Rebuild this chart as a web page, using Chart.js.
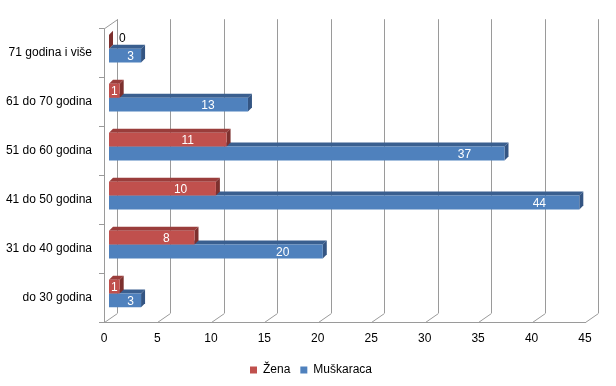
<!DOCTYPE html>
<html>
<head>
<meta charset="utf-8">
<script src="https://cdn.jsdelivr.net/npm/chart.js@4.4.1/dist/chart.umd.min.js"></script>
<style>
  html, body { margin: 0; padding: 0; background: #fff; }
  #wrap { width: 616px; height: 386px; }
</style>
</head>
<body>
<div id="wrap"><canvas id="myChart"></canvas></div>
<script>
  /* data */
  var categories = ["71 godina i više", "61 do 70 godina", "51 do 60 godina", "41 do 50 godina", "31 do 40 godina", "do 30 godina"];
  var zena = [0, 1, 11, 10, 8, 1];
  var muskaraca = [3, 13, 37, 44, 20, 3];
  var xTicks = [0, 5, 10, 15, 20, 25, 30, 35, 40, 45];

  var FONT = "'Liberation Sans', Arial, sans-serif";
  var FX = -5, FY = 4;   // front plane offset
  var BX = 8, BY = -5;   // back wall offset
  var D = 4;             // bar depth

  /* walls, floor, grid of the 3d box */
  var walls = {
    id: 'walls',
    afterLayout: function(chart) {
      // legend sits a bit right of the canvas centre
      chart.legend.left += 32;
    },
    beforeDatasetsDraw: function(chart) {
      var c = chart.ctx, a = chart.chartArea;
      var x = chart.scales.x;
      var x0 = Math.round(x.getPixelForValue(0)), x1 = Math.round(x.getPixelForValue(45));
      c.save();
      c.strokeStyle = '#9a9a9a';
      c.lineWidth = 1;
      c.beginPath();
      xTicks.forEach(function(v) {
        var px = Math.round(x.getPixelForValue(v));
        c.moveTo(px + BX + 0.5, a.top + BY);
        c.lineTo(px + BX + 0.5, a.bottom + BY);
        c.moveTo(px + FX + 0.5, a.bottom + FY + 0.5);
        c.lineTo(px + BX + 0.5, a.bottom + BY + 0.5);
      });
      // front bottom edge
      c.moveTo(x0 + FX, a.bottom + FY + 0.5);
      c.lineTo(x1 + FX + 1, a.bottom + FY + 0.5);
      // left wall
      c.moveTo(x0 + FX + 0.5, a.top + FY);
      c.lineTo(x0 + FX + 0.5, a.bottom + FY);
      c.moveTo(x0 + FX + 0.5, a.top + FY + 0.5);
      c.lineTo(x0 + BX + 0.5, a.top + BY + 0.5);
      // category ticks on the left
      var n = categories.length, h = (a.bottom - a.top) / n;
      for (var i = 0; i <= n; i++) {
        var ty = Math.round(a.top + i * h + FY) + 0.5;
        c.moveTo(x0 + FX - 5, ty);
        c.lineTo(x0 + FX, ty);
      }
      c.stroke();

      // top and side faces of the bars, lower series first
      var tops = ['#9a3d3b', '#3a5f8f'];
      var sides = ['#7d302e', '#345583'];
      [1, 0].forEach(function(di) {
        var meta = chart.getDatasetMeta(di);
        meta.data.forEach(function(bar) {
          var t = bar.y - bar.height / 2, b = bar.y + bar.height / 2;
          var l = bar.base, r = bar.x;
          c.fillStyle = tops[di];
          c.beginPath();
          c.moveTo(l, t); c.lineTo(l + D, t - D); c.lineTo(r + D, t - D); c.lineTo(r, t);
          c.closePath(); c.fill();
          c.fillStyle = sides[di];
          c.beginPath();
          c.moveTo(r, t); c.lineTo(r + D, t - D); c.lineTo(r + D, b - D); c.lineTo(r, b);
          c.closePath(); c.fill();
        });
      });
      c.restore();
    }
  };

  /* value labels */
  var values = {
    id: 'values',
    afterDatasetsDraw: function(chart) {
      var c = chart.ctx;
      c.save();
      c.font = '12px ' + FONT;
      c.textBaseline = 'middle';
      chart.data.datasets.forEach(function(ds, di) {
        var meta = chart.getDatasetMeta(di);
        meta.data.forEach(function(bar, i) {
          var v = ds.data[i];
          var w = bar.x - bar.base;
          if (v === 0) {
            c.fillStyle = '#000';
            c.textAlign = 'left';
            c.fillText(String(v), bar.x + 10, bar.y - 3);
            return;
          }
          var off = w < 20 ? w / 2 : Math.min(w * 0.33, 40);
          c.fillStyle = '#fff';
          c.textAlign = 'center';
          c.fillText(String(v), bar.x - off, bar.y + 1);
        });
      });
      c.restore();
    }
  };

  var ctx = document.getElementById("myChart").getContext('2d');
  var myChart = new Chart(ctx, {
    type: 'bar',
    plugins: [walls, values],
    data: {
      labels: categories,
      datasets: [{
        label: 'Žena',
        data: zena,
        backgroundColor: '#c0504d'
      }, {
        label: 'Muškaraca',
        data: muskaraca,
        backgroundColor: '#4f81bd'
      }]
    },
    options: {
      indexAxis: 'y',
      responsive: true,
      maintainAspectRatio: false,
      animation: false,
      barPercentage: 1,
      categoryPercentage: 0.566,
      layout: { padding: { top: 21, right: 26, left: 0, bottom: 0 } },
      scales: {
        x: {
          min: 0, max: 45,
          grid: { display: false, drawTicks: false },
          border: { display: false },
          ticks: { stepSize: 5, padding: 13, labelOffset: FX, color: '#000', font: { family: FONT, size: 12 } },
          afterFit: function(s) { s.height = 36; }
        },
        y: {
          grid: { display: false, drawTicks: false },
          border: { display: false },
          ticks: { padding: 17, labelOffset: FY, color: '#000', font: { family: FONT, size: 12 } },
          afterFit: function(s) { s.width = 109; }
        }
      },
      plugins: {
        legend: {
          position: 'bottom',
          labels: { boxWidth: 7, boxHeight: 7, padding: 10, color: '#000', font: { family: FONT, size: 12 } }
        },
        tooltip: { enabled: false }
      }
    }
  });
</script>
</body>
</html>
